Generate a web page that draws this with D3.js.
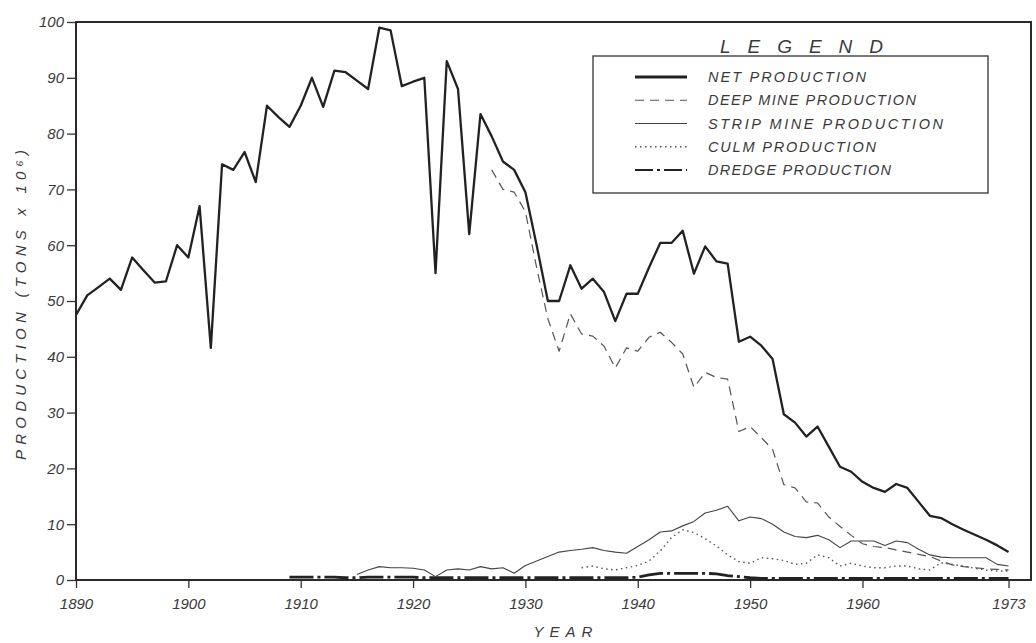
<!DOCTYPE html>
<meta charset="utf-8">
<style>
  body { margin: 0; background: #fff; }
  svg text {
    font-family: "Liberation Sans", Arial, sans-serif;
    font-style: italic;
    fill: #3a3a3a;
  }
  .frame { fill: none; stroke: #2a2a2a; stroke-width: 2; }
  .axis path { display: none; }
  .axis line { stroke: #333; stroke-width: 1.3; }
  .series { fill: none; stroke-linejoin: round; }
</style>
<body>
<script src="https://d3js.org/d3.v7.min.js"></script>
<div id="chart"></div>
<script>
// production, millions of tons, one value per year
var netStart = 1890;
var netProd = [47.5, 51, 52.5, 54, 52, 57.8, 55.5, 53.3, 53.5, 60,
  57.8, 67, 41.6, 74.5, 73.5, 76.7, 71.3, 85, 83, 81.2,
  85, 90, 84.8, 91.3, 91, 89.5, 88, 99, 98.5, 88.5,
  89.3, 90, 55, 93, 88, 62, 83.5, 79.5, 75, 73.5,
  69.5, 60, 50, 50, 56.4, 52.2, 54, 51.6, 46.4, 51.3,
  51.3, 56, 60.4, 60.4, 62.6, 54.9, 59.8, 57.1, 56.7, 42.7,
  43.6, 42, 39.6, 29.7, 28.2, 25.7, 27.5, 23.9, 20.3, 19.4,
  17.6, 16.5, 15.8, 17.2, 16.5, 14, 11.5, 11.1, 10, 9,
  8.1, 7.2, 6.2, 5];

var deepStart = 1927;
var deepProd = [73.5, 70, 69.5, 66, 56, 46.8, 41, 47.7, 44.1, 43.7,
  41.9, 38, 41.6, 41, 43.5, 44.4, 42.6, 40.5, 34.5, 37.2,
  36.3, 36, 26.6, 27.5, 25.5, 23.4, 17.1, 16.5, 14, 13.8,
  11.3, 9.6, 8, 6.5, 6, 5.8, 5.4, 5, 4.6, 4.2,
  3.4, 2.7, 2.4, 2.2, 2, 1.9, 1.8];

var stripStart = 1915;
var stripProd = [1, 1.8, 2.4, 2.2, 2.2, 2.1, 1.8, 0.6, 1.8, 2,
  1.8, 2.4, 2, 2.2, 1.2, 2.6, 3.4, 4.2, 5, 5.3,
  5.5, 5.8, 5.3, 5, 4.8, 6, 7.2, 8.6, 8.8, 9.7,
  10.5, 12, 12.5, 13.2, 10.6, 11.3, 11, 10, 8.6, 7.8,
  7.6, 8, 7.2, 5.8, 7, 7, 7, 6.2, 7, 6.7,
  5.5, 4.5, 4.1, 4, 4, 4, 4, 2.8, 2.5];

var culmStart = 1935;
var culmProd = [2.2, 2.5, 2, 1.8, 2.2, 2.6, 3.4, 5.2, 7.6, 9,
  8.5, 7.4, 6.1, 4.5, 3.3, 3, 4, 3.8, 3.5, 2.8,
  3, 4.5, 4, 2.5, 3, 2.5, 2.2, 2.2, 2.5, 2.5,
  2, 1.8, 3.1, 2.8, 2.5, 2.1, 1.8, 1.6, 1.6];

var dredgeStart = 1909;
var dredgeProd = [0.5, 0.5, 0.5, 0.5, 0.5, 0.4, 0.4, 0.5, 0.5, 0.5,
  0.5, 0.5, 0.4, 0.4, 0.4, 0.4, 0.4, 0.4, 0.4, 0.4,
  0.4, 0.4, 0.4, 0.4, 0.4, 0.4, 0.4, 0.4, 0.4, 0.4,
  0.4, 0.5, 0.9, 1.2, 1.2, 1.2, 1.2, 1.2, 1.1, 0.8,
  0.6, 0.4, 0.3, 0.3, 0.3, 0.3, 0.3, 0.3, 0.3, 0.3,
  0.3, 0.3, 0.3, 0.3, 0.3, 0.3, 0.3, 0.3, 0.3, 0.3,
  0.3, 0.3, 0.3, 0.3, 0.3];

var xTicks = [1890, 1900, 1910, 1920, 1930, 1940, 1950, 1960, 1973];
var yTicks = [0, 10, 20, 30, 40, 50, 60, 70, 80, 90, 100];
var legendLabels = ["NET PRODUCTION", "DEEP MINE PRODUCTION", "STRIP MINE PRODUCTION",
  "CULM PRODUCTION", "DREDGE PRODUCTION"];

var width = 1036, height = 643;

var x = d3.scaleLinear().domain([1890, 1975]).range([76, 1031]);
var y = d3.scaleLinear().domain([0, 100]).range([580, 22]);

var svg = d3.select("#chart").append("svg")
    .attr("width", width)
    .attr("height", height);

function toPoints(start, vals) {
  return vals.map(function(v, i) { return { year: start + i, value: v }; });
}

var line = d3.line()
    .x(function(d) { return x(d.year); })
    .y(function(d) { return y(d.value); });

// styles per series (same order as legend)
var styles = [
  { data: toPoints(netStart, netProd), stroke: "#222", width: 2.3, dash: null },
  { data: toPoints(deepStart, deepProd), stroke: "#555", width: 1.2, dash: "9,6" },
  { data: toPoints(stripStart, stripProd), stroke: "#444", width: 1.1, dash: null },
  { data: toPoints(culmStart, culmProd), stroke: "#555", width: 1.4, dash: "1.5,3.5" },
  { data: toPoints(dredgeStart, dredgeProd), stroke: "#222", width: 2.8, dash: "24,4,3,4" }
];

// axes
svg.append("g")
    .attr("class", "axis x")
    .attr("transform", "translate(0," + y(0) + ")")
    .call(d3.axisBottom(x).tickValues(xTicks).tickSize(8).tickPadding(10).tickFormat(d3.format("d")))
    .selectAll("text")
      .style("font-size", "15px");

svg.append("g")
    .attr("class", "axis y")
    .attr("transform", "translate(" + x(1890) + ",0)")
    .call(d3.axisLeft(y).tickValues(yTicks).tickSize(9).tickPadding(3))
    .selectAll("text")
      .style("font-size", "15px");

// plot frame
svg.append("rect")
    .attr("class", "frame")
    .attr("x", x(1890))
    .attr("y", y(100))
    .attr("width", x(1975) - x(1890))
    .attr("height", y(0) - y(100));

// series
svg.selectAll(".series")
    .data(styles.slice().reverse())
  .enter().append("path")
    .attr("class", "series")
    .attr("d", function(d) { return line(d.data); })
    .style("stroke", function(d) { return d.stroke; })
    .style("stroke-width", function(d) { return d.width; })
    .style("stroke-dasharray", function(d) { return d.dash; });

// axis titles
svg.append("text")
    .attr("transform", "translate(26,305) rotate(-90)")
    .attr("text-anchor", "middle")
    .attr("textLength", 310)
    .attr("lengthAdjust", "spacing")
    .style("font-size", "15px")
    .text("PRODUCTION  (TONS x 10⁶)");

svg.append("text")
    .attr("x", 566)
    .attr("y", 637)
    .attr("text-anchor", "middle")
    .style("font-size", "15px")
    .style("letter-spacing", "6px")
    .text("YEAR");

// legend
var legend = svg.append("g").attr("class", "legend");

legend.append("text")
    .attr("x", 720)
    .attr("y", 53)
    .attr("textLength", 163)
    .attr("lengthAdjust", "spacing")
    .style("font-size", "19px")
    .text("LEGEND");

legend.append("rect")
    .attr("x", 593)
    .attr("y", 56)
    .attr("width", 395)
    .attr("height", 137)
    .style("fill", "#fff")
    .style("stroke", "#333")
    .style("stroke-width", 1.3);

var rowY = d3.scalePoint().domain(legendLabels).range([77, 170]);
var textLen = [158, 208, 235, 168, 183];

var rows = legend.selectAll(".row")
    .data(legendLabels)
  .enter().append("g")
    .attr("class", "row")
    .attr("transform", function(d) { return "translate(0," + rowY(d) + ")"; });

rows.append("line")
    .attr("x1", 635)
    .attr("x2", 687)
    .style("stroke", function(d, i) { return styles[i].stroke; })
    .style("stroke-width", function(d, i) { return i === 0 ? 3 : (i === 4 ? 2 : styles[i].width); })
    .style("stroke-dasharray", function(d, i) { return i === 4 ? "18,4,3,4" : styles[i].dash; });

rows.append("text")
    .attr("x", 708)
    .attr("dy", "0.36em")
    .attr("textLength", function(d, i) { return textLen[i]; })
    .attr("lengthAdjust", "spacing")
    .style("font-size", "14.5px")
    .text(function(d) { return d; });
</script>
</body>
